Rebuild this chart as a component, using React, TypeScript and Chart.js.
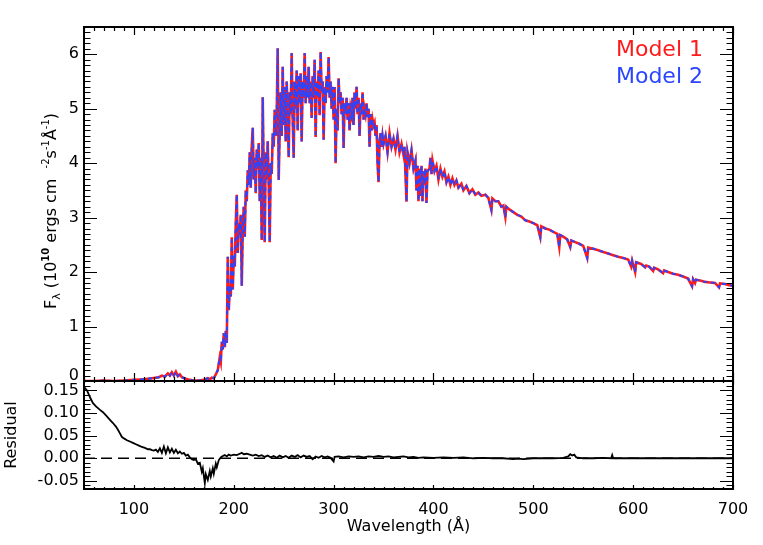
import React, { useEffect, useRef } from 'react';
import { Chart, registerables } from 'chart.js';

Chart.register(...registerables);

// ---------------- data ----------------
const X_RANGE = [50, 700];
const X_MAJOR_TICKS = [100, 200, 300, 400, 500, 600, 700];
const FLUX_RANGE = [0, 6.5];
const FLUX_TICKS = [0, 1, 2, 3, 4, 5, 6];
const RESID_RANGE = [-0.068, 0.171];
const RESID_TICKS = [-0.05, 0.0, 0.05, 0.1, 0.15];
const LEGEND_LABELS = ['Model 1', 'Model 2'];

// [wavelength (Å), flux (1e10 ergs cm^-2 s^-1 Å^-1)]
const MODEL1_SPECTRUM: [number, number][] = [
  [50, 0.0], [60, 0.0], [70, 0.01], [80, 0.0], [90, 0.01], [100, 0.02], [110, 0.03], [118, 0.05],
  [125, 0.07], [128, 0.1], [131, 0.08], [134, 0.14], [136, 0.1], [138, 0.16], [140, 0.1], [142, 0.17],
  [144, 0.09], [146, 0.12], [148, 0.07], [152, 0.04], [156, 0.02], [160, 0.01], [165, 0.01], [170, 0.02],
  [174, 0.05], [176, 0.03], [178, 0.06], [180, 0.05], [182, 0.12], [184, 0.2], [186, 0.44], [187, 0.35],
  [188, 0.72], [189, 0.58], [190, 0.88], [191, 0.62], [192, 0.92], [193, 0.7], [194, 2.28], [195, 1.3],
  [196, 1.75], [197, 1.55], [198, 2.64], [199, 1.68], [200, 2.3], [201, 2.1], [202, 2.9], [203, 3.42],
  [204, 2.35], [205, 2.9], [206, 2.7], [207, 3.05], [208, 1.75], [209, 2.8], [210, 3.2], [211, 2.65],
  [212, 3.5], [213, 3.3], [214, 3.87], [215, 3.6], [216, 4.2], [217, 3.55], [218, 4.3], [219, 4.65],
  [220, 3.7], [221, 4.1], [222, 3.45], [223, 4.25], [224, 3.9], [225, 4.37], [226, 3.3], [227, 4.1],
  [228, 2.59], [229, 5.21], [230, 3.8], [231, 2.55], [232, 4.2], [233, 3.7], [234, 4.4], [235, 3.6],
  [236, 2.55], [237, 4.0], [238, 3.8], [239, 4.55], [240, 4.3], [241, 4.98], [242, 4.5], [243, 4.9],
  [244, 6.11], [245, 3.69], [246, 4.6], [247, 5.3], [248, 4.5], [249, 5.77], [250, 4.7], [251, 5.4],
  [252, 4.4], [253, 5.5], [254, 5.0], [255, 4.11], [256, 5.3], [257, 4.9], [258, 6.02], [259, 4.8],
  [260, 4.1], [261, 5.5], [262, 5.0], [263, 5.7], [264, 4.6], [265, 5.6], [266, 5.1], [267, 5.65],
  [268, 4.4], [269, 5.5], [270, 5.2], [271, 6.02], [272, 5.1], [273, 5.6], [274, 5.2], [275, 5.77],
  [276, 5.1], [277, 5.5], [278, 4.83], [279, 5.6], [280, 5.2], [281, 5.9], [282, 4.48], [283, 5.5],
  [284, 5.2], [285, 5.7], [286, 4.88], [287, 6.04], [288, 5.3], [289, 5.5], [290, 4.43], [291, 5.4],
  [292, 5.1], [293, 5.6], [294, 5.3], [295, 5.95], [296, 5.2], [297, 5.5], [298, 5.0], [299, 5.4],
  [300, 4.8], [301, 5.4], [302, 4.0], [303, 5.0], [304, 4.6], [305, 5.56], [306, 5.1], [307, 5.3],
  [308, 4.9], [309, 5.2], [310, 4.28], [311, 5.1], [312, 4.9], [313, 5.2], [314, 4.8], [315, 5.1],
  [316, 4.6], [317, 5.0], [318, 4.9], [319, 5.2], [320, 4.7], [321, 5.3], [322, 5.0], [323, 5.4],
  [324, 4.9], [325, 5.2], [326, 4.5], [327, 5.1], [328, 4.9], [329, 5.3], [330, 4.8], [331, 5.0],
  [332, 4.9], [333, 5.1], [334, 4.85], [335, 5.0], [336, 4.3], [337, 4.9], [338, 4.6], [339, 4.8],
  [340, 4.7], [341, 4.75], [342, 4.5], [343, 4.7], [344, 4.0], [345, 3.65], [346, 4.4], [347, 4.55],
  [348, 4.3], [349, 4.5], [350, 4.35], [352, 4.5], [354, 4.2], [356, 4.55], [358, 4.3], [360, 4.45],
  [362, 4.25], [364, 4.5], [366, 4.2], [368, 4.35], [370, 4.15], [371, 4.3], [373, 3.29], [374, 4.2],
  [376, 4.0], [378, 4.24], [380, 3.9], [382, 4.05], [383, 3.5], [384, 3.95], [385, 3.3], [386, 3.9],
  [387, 3.4], [388, 3.95], [389, 3.3], [390, 3.85], [391, 3.6], [392, 3.9], [393, 3.27], [394, 3.85],
  [396, 3.9], [397, 4.1], [398, 3.8], [399, 4.05], [401, 3.85], [403, 3.95], [405, 3.7], [407, 3.9],
  [409, 3.75], [411, 3.85], [413, 3.65], [415, 3.75], [417, 3.6], [419, 3.72], [421, 3.6], [423, 3.68],
  [425, 3.55], [428, 3.62], [430, 3.5], [433, 3.58], [436, 3.45], [439, 3.52], [442, 3.42], [445, 3.46],
  [448, 3.4], [452, 3.42], [455, 3.36], [458, 3.14], [459, 3.35], [462, 3.3], [465, 3.3], [468, 3.2],
  [470, 3.22], [472, 3.01], [473, 3.2], [476, 3.15], [480, 3.1], [484, 3.05], [488, 3.02], [492, 2.95],
  [496, 2.93], [500, 2.9], [504, 2.86], [507, 2.64], [508, 2.84], [512, 2.8], [516, 2.78], [520, 2.74],
  [524, 2.7], [526, 2.46], [527, 2.68], [530, 2.65], [534, 2.6], [537, 2.46], [538, 2.58], [542, 2.55],
  [546, 2.52], [550, 2.48], [554, 2.26], [555, 2.45], [560, 2.43], [565, 2.4], [570, 2.37], [575, 2.34],
  [580, 2.31], [585, 2.28], [590, 2.26], [595, 2.23], [598, 2.1], [599, 2.21], [602, 2.0], [603, 2.18],
  [608, 2.15], [612, 2.09], [613, 2.12], [616, 2.1], [620, 2.02], [621, 2.08], [625, 2.05], [630, 1.98],
  [631, 2.03], [635, 2.0], [640, 1.97], [645, 1.95], [650, 1.92], [655, 1.88], [659, 1.74], [660, 1.87],
  [662, 1.8], [663, 1.86], [668, 1.84], [672, 1.82], [677, 1.81], [682, 1.8], [686, 1.72], [687, 1.79],
  [692, 1.78], [696, 1.76], [700, 1.75],
];

// Model 2 is indistinguishable from Model 1 at this scale
const MODEL2_SPECTRUM: [number, number][] = MODEL1_SPECTRUM;

// [wavelength (Å), residual]
const RESIDUAL: [number, number][] = [
  [50, 0.158], [53, 0.15], [56, 0.135], [59, 0.122], [62, 0.115], [66, 0.107], [69, 0.102], [72, 0.095],
  [76, 0.085], [79, 0.078], [82, 0.07], [84, 0.063], [86, 0.055], [88, 0.047], [90, 0.044], [93, 0.04],
  [96, 0.037], [99, 0.034], [102, 0.031], [105, 0.028], [108, 0.025], [111, 0.023], [114, 0.02], [116, 0.02],
  [118, 0.018], [120, 0.017], [122, 0.019], [124, 0.014], [126, 0.022], [128, 0.012], [130, 0.026], [132, 0.011],
  [134, 0.024], [136, 0.013], [138, 0.021], [140, 0.012], [142, 0.019], [144, 0.011], [146, 0.015], [148, 0.01],
  [150, 0.012], [152, 0.006], [154, 0.008], [156, 0.002], [158, -0.002], [160, -0.004], [162, -0.002],
  [164, -0.012], [166, -0.01], [168, -0.03], [169, -0.022], [171, -0.055], [172, -0.035], [174, -0.048],
  [176, -0.028], [177, -0.04], [179, -0.022], [180, -0.034], [182, -0.012], [183, -0.02], [185, -0.004],
  [187, 0.002], [189, 0.005], [191, 0.007], [193, 0.004], [195, 0.008], [197, 0.006], [200, 0.008], [203, 0.007],
  [206, 0.01], [208, 0.012], [210, 0.009], [213, 0.01], [216, 0.008], [219, 0.006], [222, 0.008], [225, 0.005],
  [228, 0.007], [231, 0.003], [234, 0.006], [237, 0.002], [240, 0.005], [243, 0.001], [246, 0.006], [249, 0.002],
  [252, 0.005], [255, 0.001], [258, 0.006], [261, 0.003], [264, 0.007], [267, 0.002], [270, 0.006], [273, 0.003],
  [276, 0.005], [279, -0.002], [282, 0.004], [285, 0.001], [288, 0.005], [291, 0.002], [294, 0.004], [297, 0.001],
  [300, -0.007], [301, 0.003], [305, 0.004], [310, 0.002], [315, 0.004], [320, 0.003], [325, 0.004], [330, 0.002],
  [335, 0.004], [340, 0.003], [345, 0.005], [350, 0.003], [355, 0.004], [360, 0.002], [365, 0.003], [370, 0.004],
  [375, 0.002], [380, 0.003], [385, 0.001], [390, 0.002], [400, 0.001], [410, 0.002], [420, 0.001], [430, 0.002],
  [440, 0.0], [450, 0.001], [460, 0.0], [470, 0.0], [480, -0.002], [485, -0.001], [490, -0.002], [500, 0.0],
  [510, 0.0], [520, 0.0], [530, 0.001], [535, 0.004], [537, 0.009], [539, 0.006], [541, 0.008], [543, 0.002],
  [550, 0.0], [560, 0.0], [570, 0.001], [578, 0.0], [579, 0.007], [580, 0.0], [590, 0.0], [600, 0.0],
  [620, 0.0], [640, 0.0], [660, 0.0], [680, 0.0], [700, 0.0],
];

const ZERO_LINE: [number, number][] = [[50, 0], [700, 0]];

// ---------------- styling ----------------
const FONT = "'DejaVu Sans', Verdana, sans-serif";
const RED = '#ff1a1a';
const BLUE = '#2a44ff';

const toPts = (arr: [number, number][]) => arr.map(([x, y]) => ({ x, y }));

const idlBoxPlugin = {
  id: 'idlBox',
  afterDatasetsDraw(chart: any, _args: any, opts: any) {
    const { ctx, chartArea } = chart;
    const { left, right, top, bottom } = chartArea;
    const xs = chart.scales.x;
    const ys = chart.scales.y;
    ctx.save();
    ctx.strokeStyle = '#000';
    ctx.lineWidth = 1.2;
    ctx.beginPath();
    const nx = Math.round((opts.xMax - opts.xMin) / opts.xMinor);
    for (let i = 0; i <= nx; i++) {
      const v = opts.xMin + i * opts.xMinor;
      const r = v / opts.xMajor;
      const major = Math.abs(r - Math.round(r)) < 1e-6;
      const len = major ? opts.xLen : opts.xLen * 0.5;
      const px = Math.round(xs.getPixelForValue(v)) + 0.5;
      ctx.moveTo(px, bottom);
      ctx.lineTo(px, bottom - len);
      ctx.moveTo(px, top);
      ctx.lineTo(px, top + len);
    }
    const y0 = Math.ceil(opts.yMin / opts.yMinor - 1e-6);
    const y1 = Math.floor(opts.yMax / opts.yMinor + 1e-6);
    for (let i = y0; i <= y1; i++) {
      const v = i * opts.yMinor;
      const r = v / opts.yMajor;
      const major = Math.abs(r - Math.round(r)) < 1e-6;
      const len = major ? opts.yLen : opts.yLen * 0.5;
      const py = Math.round(ys.getPixelForValue(v)) + 0.5;
      ctx.moveTo(left, py);
      ctx.lineTo(left + len, py);
      ctx.moveTo(right, py);
      ctx.lineTo(right - len, py);
    }
    ctx.stroke();
    ctx.lineWidth = 2;
    ctx.strokeRect(left, top, right - left, bottom - top);

    if (opts.legend) {
      ctx.font = `22px ${FONT}`;
      ctx.textAlign = 'right';
      ctx.textBaseline = 'alphabetic';
      opts.legend.forEach((item: any) => {
        ctx.fillStyle = item.color;
        ctx.fillText(item.text, item.x, item.y);
      });
    }

    if (opts.richTitle) {
      const parts = opts.richTitle.parts;
      let total = 0;
      const widths = parts.map((p: any) => {
        ctx.font = `${p.bold ? 'bold ' : ''}${p.size}px ${FONT}`;
        const w = ctx.measureText(p.t).width;
        total += w;
        return w;
      });
      ctx.translate(opts.richTitle.x, opts.richTitle.y);
      ctx.rotate(-Math.PI / 2);
      ctx.fillStyle = '#000';
      ctx.textAlign = 'left';
      ctx.textBaseline = 'alphabetic';
      let cx = -total / 2;
      parts.forEach((p: any, i: number) => {
        ctx.font = `${p.bold ? 'bold ' : ''}${p.size}px ${FONT}`;
        ctx.fillText(p.t, cx, p.dy || 0);
        cx += widths[i];
      });
    }
    ctx.restore();
  },
};

const Y_TITLE_PARTS = [
  { t: 'F', size: 16 },
  { t: 'λ', size: 11, dy: 4 },
  { t: ' (10', size: 16 },
  { t: '10', size: 10, dy: -7, bold: true },
  { t: ' ergs cm  ', size: 16 },
  { t: '-2', size: 10, dy: -7 },
  { t: 's', size: 16 },
  { t: '-1', size: 10, dy: -7 },
  { t: 'Å', size: 16 },
  { t: '-1', size: 10, dy: -7 },
  { t: ')', size: 16 },
];

export default function App() {
  const topRef = useRef<HTMLCanvasElement>(null);
  const botRef = useRef<HTMLCanvasElement>(null);

  useEffect(() => {
    const tickFont = { family: FONT, size: 16 };

    const top = new Chart(topRef.current as HTMLCanvasElement, {
      type: 'line',
      data: {
        datasets: [
          {
            label: LEGEND_LABELS[0],
            data: toPts(MODEL1_SPECTRUM),
            borderColor: RED,
            borderWidth: 2.6,
            pointRadius: 0,
            tension: 0,
            order: 2,
          },
          {
            label: LEGEND_LABELS[1],
            data: toPts(MODEL2_SPECTRUM),
            borderColor: BLUE,
            borderWidth: 2,
            borderDash: [4, 4],
            pointRadius: 0,
            tension: 0,
            order: 1,
          },
        ],
      },
      options: {
        responsive: false,
        animation: false,
        devicePixelRatio: 1,
        parsing: false,
        layout: { padding: { left: 0, right: 30, top: 27, bottom: 164 } },
        plugins: {
          legend: { display: false },
          tooltip: { enabled: false },
          idlBox: {
            xMin: X_RANGE[0], xMax: X_RANGE[1], xMinor: 10, xMajor: 100, xLen: 8,
            yMin: FLUX_RANGE[0], yMax: FLUX_RANGE[1], yMinor: 0.1, yMajor: 1, yLen: 13,
            legend: [
              { text: LEGEND_LABELS[0], color: RED, x: 703, y: 56 },
              { text: LEGEND_LABELS[1], color: BLUE, x: 703, y: 83 },
            ],
            richTitle: { x: 56, y: 211, parts: Y_TITLE_PARTS },
          },
        } as any,
        scales: {
          x: { type: 'linear', min: X_RANGE[0], max: X_RANGE[1], display: false },
          y: {
            type: 'linear',
            min: FLUX_RANGE[0],
            max: FLUX_RANGE[1],
            afterFit: (s: any) => { s.width = 84; },
            // the bottom "0" label sits slightly above its tick, as in the original, to clear the residual panel
            afterBuildTicks: (s: any) => {
              s.ticks = FLUX_TICKS.map((v) => ({ value: v === 0 ? 0.09 : v }));
            },
            grid: { display: false, drawTicks: false },
            border: { display: false },
            ticks: { font: tickFont, color: '#000', padding: 5, callback: (v: any) => String(Math.round(Number(v))) },
          },
        },
      },
      plugins: [idlBoxPlugin],
    });

    const bot = new Chart(botRef.current as HTMLCanvasElement, {
      type: 'line',
      data: {
        datasets: [
          {
            label: 'Residual',
            data: toPts(RESIDUAL),
            borderColor: '#000',
            borderWidth: 1.8,
            pointRadius: 0,
            tension: 0,
            order: 1,
          },
          {
            label: 'zero',
            data: toPts(ZERO_LINE),
            borderColor: '#000',
            borderWidth: 1.5,
            borderDash: [11, 6],
            pointRadius: 0,
            order: 2,
          },
        ],
      },
      options: {
        responsive: false,
        animation: false,
        devicePixelRatio: 1,
        parsing: false,
        layout: { padding: { left: 0, right: 30, top: 381, bottom: 0 } },
        plugins: {
          legend: { display: false },
          tooltip: { enabled: false },
          idlBox: {
            xMin: X_RANGE[0], xMax: X_RANGE[1], xMinor: 10, xMajor: 100, xLen: 4,
            yMin: RESID_RANGE[0], yMax: RESID_RANGE[1], yMinor: 0.01, yMajor: 0.05, yLen: 13,
          },
        } as any,
        scales: {
          x: {
            type: 'linear',
            min: X_RANGE[0],
            max: X_RANGE[1],
            afterFit: (s: any) => { s.height = 56; },
            afterBuildTicks: (s: any) => { s.ticks = X_MAJOR_TICKS.map((v) => ({ value: v })); },
            grid: { display: false, drawTicks: false },
            border: { display: false },
            ticks: { font: tickFont, color: '#000', padding: 11, maxRotation: 0, callback: (v: any) => String(v) },
            title: { display: true, text: 'Wavelength (Å)', font: tickFont, color: '#000', padding: { top: 0, bottom: 9 } },
          },
          y: {
            type: 'linear',
            min: RESID_RANGE[0],
            max: RESID_RANGE[1],
            afterFit: (s: any) => { s.width = 84; },
            afterBuildTicks: (s: any) => { s.ticks = RESID_TICKS.map((v) => ({ value: v })); },
            grid: { display: false, drawTicks: false },
            border: { display: false },
            ticks: { font: tickFont, color: '#000', padding: 5, callback: (v: any) => Number(v).toFixed(2) },
            title: { display: true, text: 'Residual', font: tickFont, color: '#000', padding: { top: 2, bottom: 0 } },
          },
        },
      },
      plugins: [idlBoxPlugin],
    });

    return () => {
      top.destroy();
      bot.destroy();
    };
  }, []);

  return (
    <div style={{ position: 'fixed', left: 0, top: 0, width: 763, height: 545, background: '#fff' }}>
      <canvas ref={topRef} width={763} height={545} style={{ position: 'absolute', left: 0, top: 0 }} />
      <canvas ref={botRef} width={763} height={545} style={{ position: 'absolute', left: 0, top: 0 }} />
    </div>
  );
}
